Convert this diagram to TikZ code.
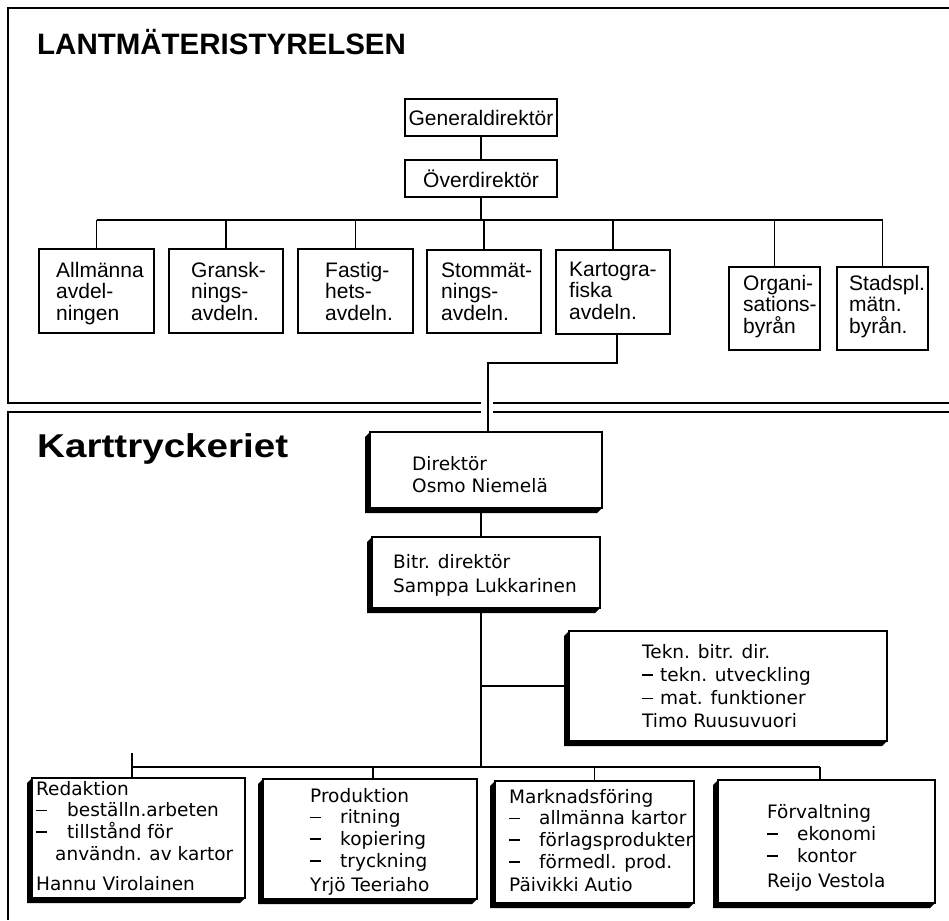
\documentclass[tikz,border=0pt]{standalone}
\usepackage{graphicx}
\usepackage{fontspec}
\setmainfont{Liberation Sans}
\newfontfamily\lowfont{DejaVu Sans}
\usetikzlibrary{calc}

\newcommand{\upf}{\fontsize{21}{21.5}\selectfont\lineskiplimit=-100pt\lineskip=0pt}
\newcommand{\lof}[1]{\lowfont\fontsize{18.5}{#1}\selectfont\lineskiplimit=-100pt\lineskip=0pt}
\newcommand{\tb}[1]{\parbox[t]{400pt}{\raggedright #1}}
\newcommand{\dsh}[1]{\makebox[#1][l]{\rule[5.3pt]{11pt}{1.7pt}}}

\tikzset{
  frame/.style={line width=1.8pt},
  conn/.style={line width=1.4pt},
  ubox/.style={draw, line width=1.6pt, fill=white, inner sep=0pt, outer sep=0pt},
  txt/.style={inner sep=0pt, anchor=base west},
}

% box by corners: name x0 y0 x1 y1
\newcommand{\mkbox}[5]{%
  \node[ubox, anchor=north west, minimum width={#4-#2}, minimum height={#5-#3}] (#1) at (#2,#3) {};}
% box with drop shadow to lower left
\newcommand{\mkshbox}[5]{%
  \fill (#2,#3) -- (#2-5,#3+5) -- (#2-5,#5+5) -- (#4-5,#5+5) -- (#4,#5) -- (#2,#5) -- cycle;
  \mkbox{#1}{#2}{#3}{#4}{#5}}

\begin{document}
\begin{tikzpicture}[x=1pt, y=-1pt]
\fill[white] (0,0) rectangle (949,920);
\useasboundingbox (0,0) rectangle (949,920);

% frames
\draw[frame] (949,8) -- (8,8) -- (8,403) -- (481,403);
\draw[frame] (493,403) -- (949,403);
\draw[frame] (481,412) -- (8,412) -- (8,920);
\draw[frame] (493,412) -- (949,412);

% titles
\node[txt, font=\bfseries\fontsize{29.5}{30}\selectfont] (t1) at (37,55) {LANTMÄTERISTYRELSEN};
\node[txt] (t2) at (37,457) {\scalebox{1.17}[1]{\bfseries\fontsize{33}{34}\selectfont Karttryckeriet}};

% ---------- upper section ----------
\mkbox{gen}{405}{99}{557}{136}
\mkbox{over}{405}{160}{557}{197}
\node[font=\upf] at (gen.center) {Generaldirektör};
\node[font=\upf] at (over.center) {Överdirektör};

\mkbox{allm}{39}{249}{154}{333}
\mkbox{gran}{169}{249}{283}{333}
\mkbox{fast}{298}{249}{413}{333}
\mkbox{stom}{427}{250}{541}{333}
\mkbox{kart}{556}{250}{670}{334}
\mkbox{org}{729}{267}{820}{350}
\mkbox{stad}{837}{267}{928}{350}

\node[txt, font=\upf] (allmT) at (56,277) {\tb{Allmänna\\avdel-\\ningen}};
\node[txt, font=\upf] (granT) at (191,277) {\tb{Gransk-\\nings-\\avdeln.}};
\node[txt, font=\upf] (fastT) at (325,277) {\tb{Fastig-\\hets-\\avdeln.}};
\node[txt, font=\upf] (stomT) at (441,277) {\tb{Stommät-\\nings-\\avdeln.}};
\node[txt, font=\upf] (kartT) at (569,276) {\tb{Kartogra-\\fiska\\avdeln.}};
\node[txt, font=\upf] (orgT) at (743,290) {\tb{Organi-\\sations-\\byrån}};
\node[txt, font=\upf] (stadT) at (849,290) {\tb{Stadspl.\\mätn.\\byrån.}};

\coordinate (ub) at (0,220);
\draw[conn] (gen.south) -- (over.north);
\draw[conn] (over.south) -- (over.south |- ub);
\draw[conn] (allm.north |- ub) -- (stad.north |- ub);
\foreach \b in {allm,gran,fast,stom,kart,org,stad}
  \draw[conn] (\b.north) -- (\b.north |- ub);

% ---------- lower section ----------
\mkshbox{dir}{370}{432}{602}{508}
\mkshbox{bitr}{372}{537}{600}{608}
\mkshbox{tekn}{569}{631}{887}{741}
\mkshbox{red}{32}{778}{245}{898}
\mkshbox{prod}{263}{779}{477}{899}
\mkshbox{mark}{495}{781}{694}{903}
\mkshbox{forv}{718}{780}{935}{903}

\node[txt, font=\lof{22}] (dirT) at (412,470) {\tb{Direktör\\Osmo Niemelä}};
\node[txt, font=\lof{24}] (bitrT) at (393,568) {\tb{Bitr. direktör\\Samppa Lukkarinen}};
\node[txt, font=\lof{23.3}] (teknT) at (642,658) {\tb{Tekn. bitr. dir.\\\dsh{18pt}tekn. utveckling\\\dsh{18pt}mat. funktioner\\Timo Ruusuvuori}};
\node[txt, font=\lof{21.7}] (redT) at (36,795) {\tb{Redaktion\\\dsh{31pt}beställn.arbeten\\\dsh{31pt}tillstånd för\\\hspace*{19pt}användn. av kartor\\[8.5pt]Hannu Virolainen}};
\node[txt, font=\lof{21.7}] (prodT) at (310,802) {\tb{Produktion\\\dsh{30pt}ritning\\\dsh{30pt}kopiering\\\dsh{30pt}tryckning\\[3pt]Yrjö Teeriaho}};
\node[txt, font=\lof{21.7}] (markT) at (509,803) {\tb{Marknadsföring\\\dsh{30pt}allmänna kartor\\\dsh{30pt}förlagsprodukter\\\dsh{30pt}förmedl. prod.\\[2pt]Päivikki Autio}};
\node[txt, font=\lof{22}] (forvT) at (767,818) {\tb{Förvaltning\\\dsh{30pt}ekonomi\\\dsh{30pt}kontor\\[3pt]Reijo Vestola}};

% connectors
\coordinate (kd) at (488,363);
\draw[conn] ([xshift=4pt]kart.south) |- (kd) -- (kd |- dir.north);
\coordinate (m) at (481,0);
\draw[conn] (dir.south -| m) -- (bitr.north -| m);
\coordinate (lb) at (0,767);
\draw[conn] (bitr.south -| m) -- (m |- lb);
\draw[conn] (m |- tekn.west) -- (tekn.west);
\coordinate (barL) at (132,767);
\coordinate (barR) at (820,767);
\draw[conn] (barL) -- (barR);
\draw[conn] ([xshift=-6.5pt]red.north) -- ++(0,-25);
\draw[conn] ([xshift=3pt]prod.north) -- ([xshift=3pt]prod.north |- lb);
\draw[conn] (mark.north) -- (mark.north |- lb);
\draw[conn] (forv.north -| barR) -- (barR);
\end{tikzpicture}
\end{document}
